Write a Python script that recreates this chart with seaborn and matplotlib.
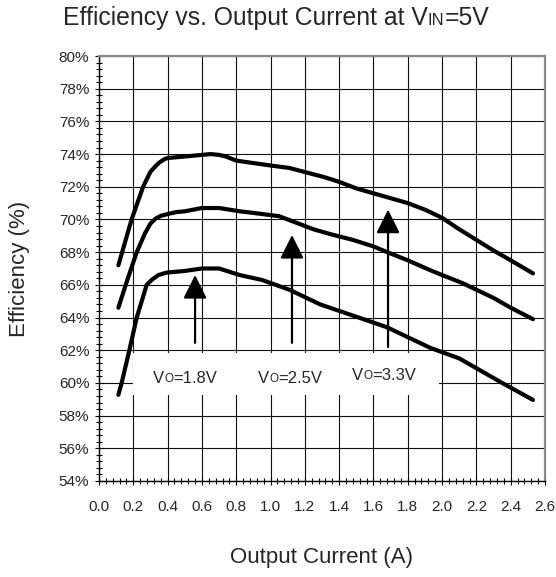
import numpy as np
import pandas as pd
import seaborn as sns
import matplotlib.pyplot as plt
from matplotlib.patches import Rectangle
from matplotlib.ticker import MultipleLocator, FuncFormatter

# Efficiency curves (x in A, y in %)
current_33 = [0.113, 0.19, 0.257, 0.30, 0.327, 0.35, 0.38, 0.40, 0.50, 0.60, 0.65, 0.70, 0.74,
              0.80, 0.90, 1.00, 1.11, 1.20, 1.31, 1.40, 1.50, 1.60, 1.70, 1.80, 1.90, 2.00,
              2.10, 2.20, 2.30, 2.40, 2.53]
eff_33 = [67.2, 70.0, 72.0, 72.92, 73.23, 73.47, 73.68, 73.76, 73.85, 73.95, 74.0, 73.95, 73.85,
          73.6, 73.45, 73.3, 73.15, 72.9, 72.6, 72.3, 71.9, 71.6, 71.3, 71.0, 70.6, 70.1,
          69.4, 68.75, 68.1, 67.5, 66.7]

current_25 = [0.113, 0.165, 0.22, 0.268, 0.30, 0.33, 0.36, 0.40, 0.45, 0.50, 0.60, 0.70, 0.82,
              0.90, 1.05, 1.15, 1.25, 1.35, 1.48, 1.60, 1.68, 1.80, 1.93, 2.00, 2.12, 2.20,
              2.30, 2.40, 2.53]
eff_25 = [64.6, 66.3, 68.0, 69.15, 69.75, 70.05, 70.22, 70.33, 70.45, 70.5, 70.7, 70.7, 70.5,
          70.4, 70.2, 69.8, 69.4, 69.1, 68.75, 68.35, 68.0, 67.5, 66.9, 66.6, 66.1, 65.7,
          65.2, 64.6, 63.9]

current_18 = [0.113, 0.132, 0.177, 0.22, 0.278, 0.307, 0.346, 0.395, 0.50, 0.60, 0.70, 0.82,
              0.95, 1.11, 1.29, 1.50, 1.68, 1.80, 1.93, 2.10, 2.20, 2.35, 2.53]
eff_18 = [59.27, 60.0, 62.0, 64.0, 66.0, 66.3, 66.6, 66.75, 66.85, 67.0, 67.0, 66.6,
          66.3, 65.7, 64.8, 64.05, 63.4, 62.8, 62.15, 61.5, 60.9, 60.0, 58.96]

vout_labels = ["1.8V", "2.5V", "3.3V"]

sns.set_style("white")
plt.rcParams["font.family"] = ["Liberation Sans", "DejaVu Sans"]

fig = plt.figure(figsize=(5.56, 5.77), dpi=100)
ax = fig.add_axes([99 / 556, 1 - 481 / 577, 446 / 556, 425 / 577])

for xs, ys in [(current_33, eff_33), (current_25, eff_25), (current_18, eff_18)]:
    sns.lineplot(x=xs, y=ys, ax=ax, color="black", linewidth=3.0, sort=False, zorder=3,
                 solid_joinstyle="round", solid_capstyle="round")

ax.set_xlim(0, 2.6)
ax.set_ylim(54, 80)
ax.xaxis.set_major_locator(MultipleLocator(0.2))
ax.xaxis.set_minor_locator(MultipleLocator(0.04))
ax.yaxis.set_major_locator(MultipleLocator(2))
ax.yaxis.set_minor_locator(MultipleLocator(0.4))
ax.xaxis.set_major_formatter(FuncFormatter(lambda v, p: f"{v:.1f}"))
ax.yaxis.set_major_formatter(FuncFormatter(lambda v, p: f"{v:.0f}%"))

ax.set_axisbelow(True)
ax.grid(True, which="major", color="#111111", linewidth=0.8)

ax.tick_params(axis="both", which="both", direction="inout", left=True, bottom=True,
               color="black", width=0.8)
ax.tick_params(axis="both", which="major", length=6, labelsize=11)
ax.tick_params(axis="both", which="minor", length=5)
ax.tick_params(axis="x", which="major", pad=11)
ax.tick_params(axis="y", which="major", pad=4)

for side in ["left", "bottom"]:
    ax.spines[side].set_color("black")
    ax.spines[side].set_linewidth(1.0)
for side in ["top", "right"]:
    ax.spines[side].set_color("#8a8a8a")
    ax.spines[side].set_linewidth(1.6)

# white band behind the output voltage labels
ax.add_patch(Rectangle((0.2, 59.27), 1.78, 2.56, facecolor="white", edgecolor="none", zorder=1))


def small_caps_label(target, x, y, big, small, rest, size, small_size):
    # "V" + smaller letters on the same baseline + rest of the text
    t1 = target.text(x, y, big, fontsize=size, va="baseline", ha="left", zorder=4)
    d = 0.21 * (size - small_size)
    t2 = ax.annotate(small, xy=(1, 0), xycoords=t1, xytext=(0, d), textcoords="offset points",
                     fontsize=small_size, va="bottom", ha="left", zorder=4, annotation_clip=False)
    ax.annotate(rest, xy=(1, 0), xycoords=t2, xytext=(0, -d), textcoords="offset points",
                fontsize=size, va="bottom", ha="left", zorder=4, annotation_clip=False)


label_x = [0.315, 0.927, 1.475]
label_y = [60.0, 60.0, 60.18]
for lx, ly, lab in zip(label_x, label_y, vout_labels):
    small_caps_label(ax, lx, ly, "V", "O", "=" + lab, 12, 8.5)

arrow_x = [0.56, 1.125, 1.685]
arrow_base = [62.45, 62.45, 62.2]
arrow_tip = [66.6, 69.05, 70.6]
for axx, b, t in zip(arrow_x, arrow_base, arrow_tip):
    ax.annotate("", xy=(axx, t), xytext=(axx, b),
                arrowprops=dict(arrowstyle="-|>,head_width=0.6,head_length=1.2",
                                mutation_scale=12, color="black", lw=1.6,
                                shrinkA=0, shrinkB=0), zorder=4)

# title with small "IN"
small_caps_label(fig, 0.113, 1 - 25 / 577, "Efficiency vs. Output Current at V", "IN", "=5V", 17.8, 12)

ax.set_xlabel("Output Current (A)", fontsize=16)
ax.set_ylabel("Efficiency (%)", fontsize=16)
ax.xaxis.set_label_coords(0.5, (481 - 558) / 425)
ax.yaxis.set_label_coords((20 - 99) / 446, 0.5)
ax.xaxis.label.set_va("center")
ax.yaxis.label.set_va("center")

fig.savefig("out.png", dpi=100)
